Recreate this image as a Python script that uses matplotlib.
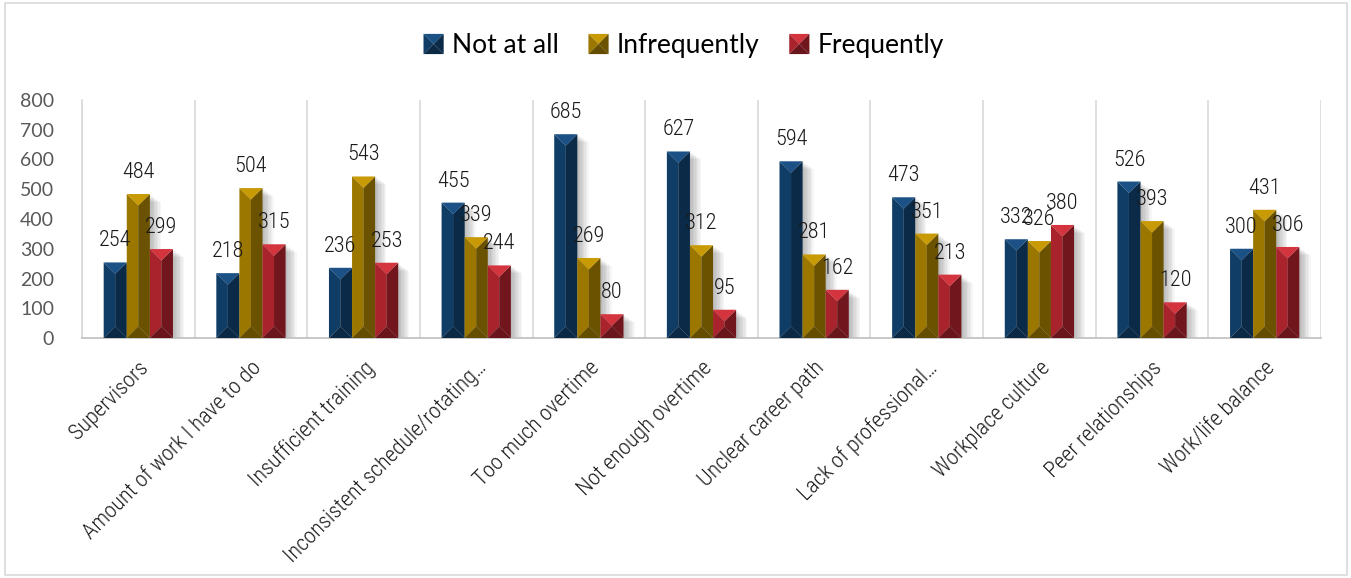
import numpy as np
import matplotlib
matplotlib.use("Agg")
import matplotlib.pyplot as plt
from matplotlib import font_manager
from matplotlib.patches import Polygon, Rectangle
from matplotlib.legend_handler import HandlerBase

categories = ["Supervisors", "Amount of work I have to do", "Insufficient training",
              "Inconsistent schedule/rotating\u2026", "Too much overtime",
              "Not enough overtime", "Unclear career path", "Lack of professional\u2026",
              "Workplace culture", "Peer relationships", "Work/life balance"]
series_names = ["Not at all", "Infrequently", "Frequently"]
not_at_all = [254, 218, 236, 455, 685, 627, 594, 473, 332, 526, 300]
infrequently = [484, 504, 543, 339, 269, 312, 281, 351, 326, 393, 431]
frequently = [299, 315, 253, 244, 80, 95, 162, 213, 380, 120, 306]
y_ticks = [0, 100, 200, 300, 400, 500, 600, 700, 800]

# shades per series: top bevel, left face, right face, bottom bevel
shades = [
    ("#1b5185", "#0f3d66", "#0a2a47", "#0b2945"),
    ("#c79a06", "#9c7700", "#6b5200", "#654d00"),
    ("#d3343d", "#a8232c", "#70161c", "#6a151b"),
]

# pick a narrow face for the labels if one is around
names = {f.name for f in font_manager.fontManager.ttflist}
cond = [n for n in ["Roboto Condensed", "Liberation Sans Narrow", "Open Sans Condensed",
                    "Noto Sans Condensed", "DejaVu Sans Condensed"] if n in names]
narrow = cond[:1] + ["DejaVu Sans"]
plain = ["Lato", "DejaVu Sans"]

fig = plt.figure(figsize=(13.51, 5.78), dpi=100)
ax = fig.add_axes([82 / 1351, 240 / 578, 1239 / 1351, 238 / 578])
ax.set_xlim(-0.5, len(categories) - 0.5)
ax.set_ylim(0, 800)

# how many data units one pixel is on each axis
px_x = (len(categories)) / 1239.0
px_y = 800 / 238.0

bar_w = 0.205
offsets = [-bar_w, 0.0, bar_w]


def draw_bar(ax, xc, h, cols):
    x0, x1 = xc - bar_w / 2, xc + bar_w / 2
    half_px = (bar_w / 2) / px_x
    d = min(half_px * px_y, h / 2)
    top_c, left_c, right_c, bot_c = cols
    # soft drop shadow to the right
    for k in range(1, 9):
        sx = k * 1.4 * px_x
        sy = k * 1.0 * px_y
        ax.add_patch(Rectangle((x0 + sx, 0), bar_w, max(h - sy, 0),
                               facecolor="black", edgecolor="none",
                               alpha=0.035, zorder=1))
    ax.add_patch(Polygon([(x0, 0), (xc, d), (xc, h - d), (x0, h)],
                         closed=True, facecolor=left_c, edgecolor="none", zorder=3))
    ax.add_patch(Polygon([(xc, d), (x1, 0), (x1, h), (xc, h - d)],
                         closed=True, facecolor=right_c, edgecolor="none", zorder=3))
    ax.add_patch(Polygon([(x0, h), (x1, h), (xc, h - d)],
                         closed=True, facecolor=top_c, edgecolor="none", zorder=3))
    ax.add_patch(Polygon([(x0, 0), (x1, 0), (xc, d)],
                         closed=True, facecolor=bot_c, edgecolor="none", zorder=3))


x = np.arange(len(categories))
for s, vals in enumerate([not_at_all, infrequently, frequently]):
    for i, v in enumerate(vals):
        xc = x[i] + offsets[s]
        draw_bar(ax, xc, v, shades[s])
        ax.annotate(str(v), (xc, v), xytext=(0, 11.5), textcoords="offset points",
                    ha="center", va="baseline", fontsize=16, family=narrow,
                    fontstretch="condensed", fontweight="light",
                    color="#1a1a1a", zorder=5)

# category separators
for b in np.arange(-0.5, len(categories), 1.0):
    ax.axvline(b, color="#d9d9d9", lw=1.2, zorder=0)

for sp in ["top", "right"]:
    ax.spines[sp].set_visible(False)
ax.spines["left"].set_color("#d9d9d9")
ax.spines["bottom"].set_color("#bfbfbf")
ax.spines["left"].set_linewidth(1.2)
ax.spines["bottom"].set_linewidth(1.2)

ax.set_yticks(y_ticks)
ax.set_yticklabels([str(t) for t in y_ticks], family=plain, fontsize=14, color="#595959")
ax.tick_params(axis="y", length=0, pad=20)
ax.set_xticks(x)
ax.set_xticklabels(categories, rotation=45, ha="right", va="top",
                   rotation_mode="anchor", family=narrow, fontstretch="condensed",
                   fontweight="light", fontsize=16, color="#1a1a1a")
ax.tick_params(axis="x", length=0, pad=14)


class PyramidHandler(HandlerBase):
    def __init__(self, cols):
        super().__init__()
        self.cols = cols

    def create_artists(self, legend, orig_handle, xdescent, ydescent, width, height, fontsize, trans):
        s = min(width, height)
        x0 = -xdescent + (width - s) / 2
        y0 = -ydescent + (height - s) / 2
        c = (x0 + s / 2, y0 + s / 2)
        top_c, left_c, right_c, bot_c = self.cols
        tl, tr, bl, br = (x0, y0 + s), (x0 + s, y0 + s), (x0, y0), (x0 + s, y0)
        parts = [([tl, tr, c], top_c), ([tl, bl, c], left_c),
                 ([tr, br, c], right_c), ([bl, br, c], bot_c)]
        out = []
        for pts, col in parts:
            p = Polygon(pts, closed=True, facecolor=col, edgecolor="none", transform=trans)
            out.append(p)
        return out


handles = [Rectangle((0, 0), 1, 1) for _ in series_names]
fig.legend(handles, series_names, loc="center", bbox_to_anchor=(0.506, 0.921),
           ncol=3, frameon=False, prop={"family": plain, "size": 19},
           handler_map={h: PyramidHandler(shades[i]) for i, h in enumerate(handles)},
           handlelength=0.8, handleheight=0.8, handletextpad=0.3, columnspacing=1.1)

# outer frame around the whole chart
fig.patches.append(Rectangle((5 / 1351, 3 / 578), 1342 / 1351, 572 / 578,
                             transform=fig.transFigure, fill=False,
                             edgecolor="#d9d9d9", lw=1.2))

fig.savefig("out.png", dpi=100, facecolor="white")
